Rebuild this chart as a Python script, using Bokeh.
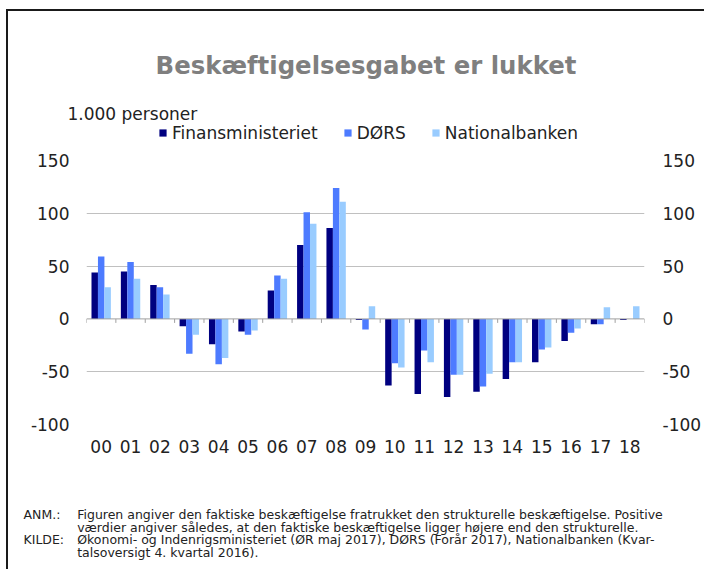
from bokeh.plotting import figure
from bokeh.layouts import column
from bokeh.models import (ColumnDataSource, Range1d, LinearAxis, FixedTicker, Span,
                          Label, Legend, LegendItem)
from bokeh.transform import dodge
from bokeh.embed import file_html
from bokeh.resources import INLINE

# ---- data (1.000 personer) ----
years = ["00", "01", "02", "03", "04", "05", "06", "07", "08", "09",
         "10", "11", "12", "13", "14", "15", "16", "17", "18"]
finansministeriet = [44, 45, 32, -7, -24, -12, 27, 70, 86, -1,
                     -63, -71, -74, -69, -57, -41, -21, -5, -1]
doers = [59, 54, 30, -33, -43, -15, 41, 101, 124, -10,
         -42, -30, -53, -64, -41, -29, -13, -5, 0]
nationalbanken = [30, 38, 23, -15, -37, -11, 38, 90, 111, 12,
                  -46, -41, -53, -52, -41, -27, -9, 11, 12]
y_ticks = [-100, -50, 0, 50, 100, 150]
series_names = ["Finansministeriet", "DØRS", "Nationalbanken"]
series_colors = ["#000080", "#4D7BFF", "#99CCFF"]

title_text = "Beskæftigelsesgabet er lukket"
unit_text = "1.000 personer"
notes = [
    ("ANM.:", "Figuren angiver den faktiske beskæftigelse fratrukket den strukturelle beskæftigelse. Positive"),
    ("", "værdier angiver således, at den faktiske beskæftigelse ligger højere end den strukturelle."),
    ("KILDE:", "Økonomi- og Indenrigsministeriet (ØR maj 2017), DØRS (Forår 2017), Nationalbanken (Kvar-"),
    ("", "talsoversigt 4. kvartal 2016)."),
]

# ---- layout constants (px, page coordinates) ----
W = 704
TOP_H, MID_H, BOT_H = 148, 342, 79
FL, FR, FT, FB = 86, 645, 160, 424
FONT = "DejaVu Sans"
TXT = "#222222"


def blank(h):
    f = figure(width=W, height=h, output_backend="svg", toolbar_location=None,
               x_range=Range1d(0, W), y_range=Range1d(h, 0), frame_align=False,
               min_border=0, outline_line_color=None,
               background_fill_alpha=0, border_fill_alpha=0)
    f.axis.visible = False
    f.grid.visible = False
    return f


def lab(f, text, x, y, size, align="left", bold=False, color=TXT):
    f.add_layout(Label(x=x, y=y, text=text, text_font=FONT, text_font_size=size,
                       text_align=align, text_baseline="alphabetic", text_color=color,
                       text_font_style="bold" if bold else "normal"))


# ---------- top: title, unit, legend ----------
top = blank(TOP_H)
lab(top, title_text, (FL + FR) / 2, 64.5, "24.4px", align="center", bold=True, color="#7f7f7f")
lab(top, unit_text, 67, 113.5, "17px")
nan = float("nan")
dummies = [top.vbar(x=[nan], top=[nan], width=1, fill_color=c, line_color=None)
           for c in series_colors]
legend = Legend(items=[LegendItem(label=n, renderers=[r]) for n, r in zip(series_names, dummies)],
                orientation="horizontal", location=(158, TOP_H - 142.5),
                glyph_width=9, glyph_height=9, label_standoff=5, spacing=25,
                padding=0, margin=0, border_line_color=None,
                background_fill_alpha=0, label_text_font=FONT,
                label_text_font_size="17px", label_text_color=TXT)
top.add_layout(legend)

# ---------- middle: the chart ----------
src = ColumnDataSource(dict(x=list(range(len(years))), fin=finansministeriet,
                            dors=doers, nat=nationalbanken))

p = figure(width=W, height=MID_H, output_backend="svg", toolbar_location=None,
           x_range=Range1d(-0.5, len(years) - 0.5), y_range=Range1d(-100, 150),
           frame_align=False,
           min_border_left=FL, min_border_right=W - FR, min_border_top=FT - TOP_H,
           min_border_bottom=TOP_H + MID_H - FB, outline_line_color=None,
           background_fill_color="white", border_fill_alpha=0)

bw = 0.22
for col, off, c in zip(["fin", "dors", "nat"], [-bw, 0, bw], series_colors):
    p.vbar(x=dodge("x", off, range=p.x_range), top=col, width=bw, source=src,
           fill_color=c, line_color=None)

p.xgrid.visible = False
p.ygrid.ticker = FixedTicker(ticks=[t for t in y_ticks if t != 0])
p.ygrid.grid_line_color = "#c0c0c0"
p.ygrid.grid_line_width = 1

p.add_layout(Span(location=0, dimension="width", line_color="#a0a0a0", line_width=1))
bounds = [i - 0.5 for i in range(len(years) + 1)]
px_per_unit = (FB - FT) / 250.0
p.segment(x0=bounds, x1=bounds, y0=[0] * len(bounds), y1=[-4 / px_per_unit] * len(bounds),
          line_color="#a0a0a0", line_width=1)


def style_y(ax, standoff):
    ax.ticker = FixedTicker(ticks=y_ticks)
    ax.major_label_overrides = {t: str(t) for t in y_ticks}
    ax.axis_line_color = None
    ax.major_tick_line_color = None
    ax.minor_tick_line_color = None
    ax.major_label_text_font = FONT
    ax.major_label_text_font_size = "17px"
    ax.major_label_text_color = TXT
    ax.major_label_standoff = standoff


style_y(p.yaxis[0], 11)
ry = LinearAxis()
style_y(ry, 12)
p.add_layout(ry, "right")

xa = p.xaxis[0]
xa.ticker = FixedTicker(ticks=list(range(len(years))))
xa.major_label_overrides = {i: y for i, y in enumerate(years)}
xa.axis_line_color = None
xa.major_tick_line_color = None
xa.minor_tick_line_color = None
xa.major_label_text_font = FONT
xa.major_label_text_font_size = "17px"
xa.major_label_text_color = TXT
xa.major_label_standoff = 9

# ---------- bottom: notes ----------
bot = blank(BOT_H)
y0 = TOP_H + MID_H
for i, (head, body) in enumerate(notes):
    yb = 514 + i * 12.5 - y0
    if head:
        lab(bot, head, 23, yb, "12.5px")
    lab(bot, body, 76.7, yb, "12.5px")

page = column(top, p, bot, spacing=0,
              styles={"background": "linear-gradient(#1a1a1a,#1a1a1a) 6px 9px / 2px 100% no-repeat, "
                                     "linear-gradient(#1a1a1a,#1a1a1a) 6px 9px / 100% 2px no-repeat, #ffffff"})

open("out.html", "w").write(file_html(page, INLINE))
